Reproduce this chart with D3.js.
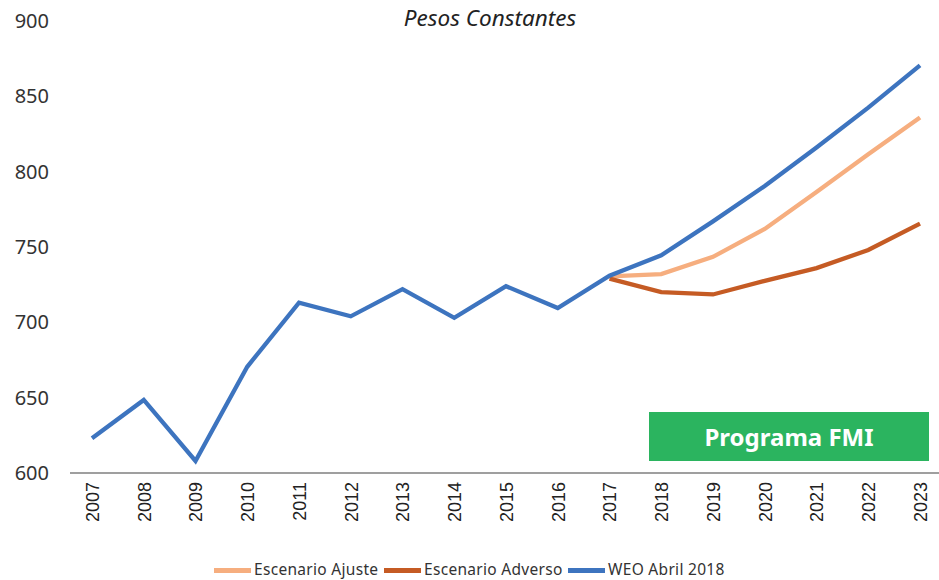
<!DOCTYPE html>
<html>
<head>
<meta charset="utf-8">
<script src="https://cdn.jsdelivr.net/npm/d3@7"></script>
<style>
    body { margin: 0; background: #fff; }
    svg { font-family: "Noto Sans", "DejaVu Sans", sans-serif; }
</style>
</head>
<body>
<svg id="vis" width="939" height="580"></svg>
<script>
// chart data
const years = ["2007","2008","2009","2010","2011","2012","2013","2014","2015",
               "2016","2017","2018","2019","2020","2021","2022","2023"];
const weo = [623, 648.5, 608, 670.5, 713, 704, 722, 703, 724, 709.5, 731, 744.5, 767, 790.5, 816, 842.5, 870.5];
const ajusteYears = ["2017","2018","2019","2020","2021","2022","2023"];
const ajuste = [730.5, 732, 743.5, 762, 786.5, 811.5, 836];
const adversoYears = ["2017","2018","2019","2020","2021","2022","2023"];
const adverso = [729, 720, 718.5, 727.5, 736, 748, 765.5];
const yTicks = [600, 650, 700, 750, 800, 850, 900];

const MARGINS = {top: 21, right: 0, bottom: 107, left: 66};
const W = 939, H = 580;

const svg = d3.select("#vis");

const x = d3.scalePoint()
    .domain(years)
    .range([92, 920]);

const y = d3.scaleLinear()
    .domain([600, 900])
    .range([H - MARGINS.bottom, MARGINS.top]);

// y tick labels (no axis line)
svg.append("g")
    .selectAll("text")
    .data(yTicks)
    .enter()
    .append("text")
    .attr("x", 49)
    .attr("y", d => y(d))
    .attr("dy", "0.35em")
    .attr("text-anchor", "end")
    .style("font-size", "20px")
    .style("fill", "#333")
    .text(d => d);

// x axis
const xAxis = d3.axisBottom(x).tickSize(0).tickPadding(0);
const gx = svg.append("g")
    .attr("transform", `translate(0, ${y(600)})`)
    .call(xAxis);
gx.select(".domain").attr("d", `M${MARGINS.left + 4},0H${W}`)
    .attr("stroke", "#7f7f7f").attr("stroke-width", 1.5);
gx.selectAll("text")
    .attr("transform", "rotate(-90)")
    .attr("x", -9)
    .attr("y", 0)
    .attr("dy", "0.36em")
    .attr("text-anchor", "end")
    .style("font-family", "\"Liberation Sans\", Arial, sans-serif")
    .style("font-size", "18px")
    .style("fill", "#222");

// title
svg.append("text")
    .attr("x", 490)
    .attr("y", 26)
    .attr("text-anchor", "middle")
    .style("font-size", "22.5px")
    .style("font-style", "italic")
    .style("fill", "#222")
    .text("Pesos Constantes");

// green label box
svg.append("rect")
    .attr("x", 649).attr("y", 412)
    .attr("width", 280).attr("height", 49)
    .style("fill", "#2bb45f");
svg.append("text")
    .attr("x", 789).attr("y", 437)
    .attr("dy", "0.36em")
    .attr("text-anchor", "middle")
    .style("font-size", "24px")
    .style("font-weight", "bold")
    .style("fill", "#fff")
    .text("Programa FMI");

const line = d3.line()
    .x(d => x(d[0]))
    .y(d => y(d[1]));

const series = [
    {name: "Escenario Ajuste", cats: ajusteYears, vals: ajuste, color: "#f6ae7f"},
    {name: "Escenario Adverso", cats: adversoYears, vals: adverso, color: "#c55b24"},
    {name: "WEO Abril 2018", cats: years, vals: weo, color: "#3d74bf"}
];

series.forEach(function(s){
    svg.append("path")
        .datum(d3.zip(s.cats, s.vals))
        .attr("d", line)
        .style("fill", "none")
        .style("stroke", s.color)
        .style("stroke-width", 4.3)
        .style("stroke-linejoin", "miter");
});

// legend
const legendX = [214, 384, 568];
const lg = svg.append("g");
series.forEach(function(s, i){
    lg.append("rect")
        .attr("x", legendX[i]).attr("y", 568)
        .attr("width", 37).attr("height", 5)
        .style("fill", s.color);
    lg.append("text")
        .attr("x", legendX[i] + 40).attr("y", 570)
        .attr("dy", "0.35em")
        .style("font-size", "15.5px")
        .style("letter-spacing", "0.3px")
        .style("fill", "#333")
        .text(s.name);
});
</script>
</body>
</html>
